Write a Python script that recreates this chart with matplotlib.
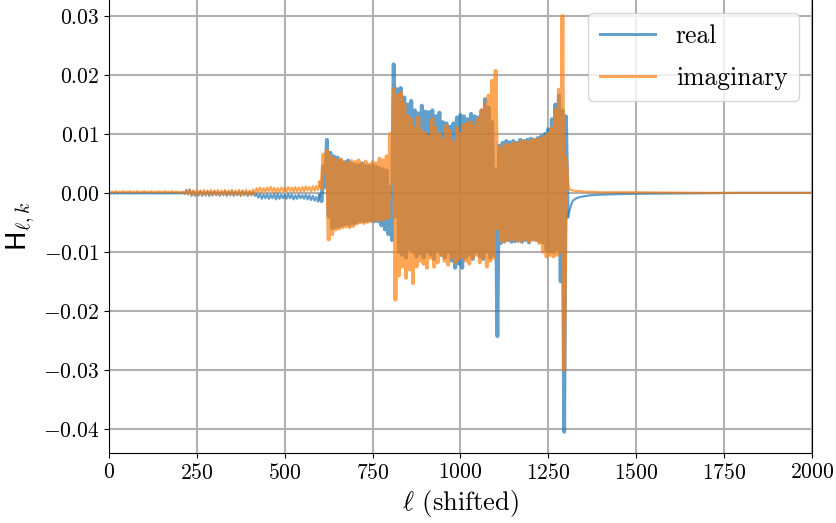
import numpy as np
import matplotlib
matplotlib.use("Agg")
import matplotlib.pyplot as plt

plt.rcParams.update({
    "font.family": "serif",
    "font.serif": ["cmr10"],
    "mathtext.fontset": "cm",
    "axes.formatter.use_mathtext": True,
    "axes.unicode_minus": True,
})

# sample grid (ell) for the oscillating part: upper value at ell, lower at ell+5
ell_grid = np.arange(0, 1301, 10)

# values in units of 1e-4
real_hi = [
    0, 0, 0, 0, 0, 0, 0, 0, 0, 0,
    0, 0, 0, 0, 0, 0, 0, 0, 0, 0,
    0, 1, 5, 6, 3, 2, 3, 2, 3, 2,
    3, 2, 2, 3, 2, 3, 2, 2, 3, 2,
    2, 2, -2, -2, -3, -2, -3, -2, -2, -3,
    -3, -2, -3, -4, -3, -4, -3, -4, -5, -7,
    -4, 45, 90, 68, 62, 60, 55, 52, 55, 50,
    48, 47, 50, 46, 45, 47, 44, 42, 40, 38,
    10, 218, 176, 178, 162, 150, 156, 140, 135, 148,
    138, 137, 140, 130, 136, 120, 118, 112, 118, 128,
    132, 130, 125, 134, 130, 128, 140, 159, 145, 120,
    40, 80, 85, 88, 86, 88, 85, 90, 88, 90,
    92, 90, 93, 96, 100, 108, 125, 150, 165, 140,
    130,
]
real_lo = [
    -1, -1, -1, -1, -1, -1, -1, -1, -1, -1,
    -1, -1, -1, -1, -1, -1, -1, -1, -1, -1,
    -1, -2, -2, -5, -5, -4, -5, -4, -5, -4,
    -4, -5, -4, -5, -4, -5, -4, -5, -4, -5,
    -4, -5, -8, -10, -9, -10, -9, -11, -10, -9,
    -10, -9, -11, -10, -9, -10, -11, -12, -13, -15,
    -14, 10, -40, -60, -58, -57, -55, -53, -54, -52,
    -50, -47, -48, -47, -46, -48, -48, -55, -62, -70,
    -80, -40, -100, -105, -110, -95, -100, -108, -102, -110,
    -100, -105, -112, -98, -105, -110, -100, -115, -127, -120,
    -127, -110, -105, -112, -100, -108, -112, -100, -110, -105,
    -243, -85, -82, -80, -83, -82, -80, -83, -80, -84,
    -78, -80, -82, -84, -98, -100, -100, -95, -150, -405,
    -40,
]
imag_hi = [
    2, 2, 3, 2, 3, 2, 3, 2, 3, 2,
    3, 2, 3, 2, 3, 2, 3, 2, 3, 2,
    2, 2, 4, 5, 4, 5, 4, 5, 4, 5,
    4, 5, 4, 5, 4, 5, 4, 5, 4, 5,
    4, 6, 8, 9, 8, 9, 10, 9, 8, 9,
    9, 10, 9, 10, 9, 10, 11, 10, 11, 12,
    18, 65, 72, 62, 58, 55, 57, 52, 50, 54,
    52, 55, 48, 53, 48, 52, 50, 58, 55, 62,
    100, 176, 165, 170, 150, 130, 125, 110, 128, 105,
    100, 95, 125, 110, 100, 90, 114, 105, 86, 110,
    100, 115, 118, 120, 112, 125, 140, 150, 165, 190,
    207, 75, 78, 82, 80, 84, 83, 86, 88, 85,
    88, 90, 90, 92, 95, 100, 110, 140, 175, 300,
    60,
]
imag_lo = [
    1, 1, 1, 1, 1, 1, 1, 1, 1, 1,
    1, 1, 1, 1, 1, 1, 1, 1, 1, 1,
    0, 0, -3, -4, -3, -4, -3, -4, -3, -4,
    -3, -4, -3, -4, -3, -4, -3, -4, -3, -4,
    -3, -2, 2, 1, 2, 3, 2, 1, 2, 3,
    2, 3, 2, 3, 2, 3, 4, 3, 4, 5,
    8, 35, -79, -70, -62, -60, -58, -57, -58, -56,
    -52, -50, -51, -49, -48, -46, -45, -46, -44, -42,
    20, -181, -140, -125, -144, -130, -153, -125, -115, -120,
    -127, -110, -125, -118, -105, -115, -122, -110, -118, -112,
    -108, -115, -120, -110, -105, -118, -110, -125, -115, -110,
    -60, -80, -83, -78, -80, -78, -82, -80, -78, -82,
    -80, -79, -85, -100, -108, -105, -108, -105, -100, -300,
    10,
]

# smooth tail after the active band
tail_ell = [1310, 1315, 1320, 1330, 1340, 1350, 1370, 1400, 1450, 1500, 1600, 1700, 1800, 1900, 2000]
real_tail = [-30, -20, -13, -9, -7, -6, -4, -3, -2, -1.5, -1, -0.5, 0, 0, 0]
imag_tail = [6, 5, 4, 3, 3, 2, 2, 1, 1, 1, 0.5, 0, 0, 0, 0]

scale = 1e-4
x_osc = np.column_stack([ell_grid, ell_grid + 5]).ravel()
x = np.concatenate([x_osc, tail_ell])
real = np.concatenate([np.column_stack([real_hi, real_lo]).ravel(), real_tail]) * scale
imag = np.concatenate([np.column_stack([imag_hi, imag_lo]).ravel(), imag_tail]) * scale

xticks = [0, 250, 500, 750, 1000, 1250, 1500, 1750, 2000]
yticks = [-0.04, -0.03, -0.02, -0.01, 0.00, 0.01, 0.02, 0.03]

band_start, band_end = 600, 1305
pre = x <= band_start
band = (x >= band_start) & (x <= band_end)
post = x >= band_end

fig = plt.figure(figsize=(8.37, 5.23), dpi=100)
ax = fig.add_axes([0.1302, 0.1338, 0.8399, 0.8662])
for series, color, label in [(real, "#1f77b4", "real"), (imag, "#ff7f0e", "imaginary")]:
    ax.plot(x[pre], series[pre], color=color, alpha=0.7, lw=1.6, label=label)
    ax.plot(x[band], series[band], color=color, alpha=0.7, lw=2.8)
    ax.plot(x[post], series[post], color=color, alpha=0.7, lw=1.6)
ax.set_xlim(0, 2000)
ax.set_ylim(-0.0441, 0.0327)
ax.set_xticks(xticks)
ax.set_yticks(yticks)
ax.set_yticklabels([r"$%s$" % (("-" if v < 0 else "") + "%.2f" % abs(v)) for v in yticks])
ax.spines["top"].set_visible(False)
ax.grid(True, color="#b0b0b0", lw=1.5)
ax.tick_params(labelsize=15.5)
ax.set_xlabel(r"$\ell$ (shifted)", fontsize=19)
ax.set_ylabel(r"$\mathsf{H}_{\ell,k}$", fontsize=20)
leg = ax.legend(loc="upper right", fontsize=18.5, handlelength=2.15,
                labelspacing=0.7, borderpad=0.45)
for h in leg.get_lines():
    h.set_linewidth(2.2)
fig.savefig("out.png", dpi=100)
